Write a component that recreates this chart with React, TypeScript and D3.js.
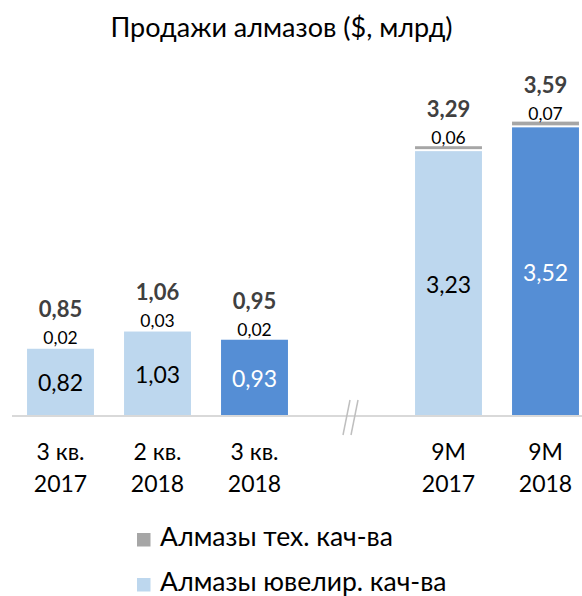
import * as d3 from 'd3';

const title = 'Продажи алмазов ($, млрд)';
const slots = ['q3-2017', 'q2-2018', 'q3-2018', 'break', '9m-2017', '9m-2018'];
const barKeys = ['q3-2017', 'q2-2018', 'q3-2018', '9m-2017', '9m-2018'];
const labelTop = ['3 кв.', '2 кв.', '3 кв.', '9M', '9M'];
const labelBottom = ['2017', '2018', '2018', '2017', '2018'];
const jewelry = [0.82, 1.03, 0.93, 3.23, 3.52];
const technical = [0.02, 0.03, 0.02, 0.06, 0.07];
const totals = [0.85, 1.06, 0.95, 3.29, 3.59];
const highlighted = [false, false, true, false, true];
const legendItems = [
  { name: 'Алмазы тех. кач-ва', color: '#a6a6a6' },
  { name: 'Алмазы ювелир. кач-ва', color: '#bdd7ee' },
];

const W = 582;
const H = 596;
const FONT = 'Lato, "Open Sans", sans-serif';
const LIGHT = '#bdd7ee';
const DARK = '#558ed5';
const GREY = '#a6a6a6';

const fmt = d3.formatLocale({ decimal: ',', thousands: ' ', grouping: [3], currency: ['', ''] }).format('.2f');

export default function App() {
  const baseY = 416;
  const x = d3.scaleBand<string>().domain(slots).range([12, 594]).paddingInner(0.31).paddingOuter(0.155);
  const y = d3.scaleLinear().domain([0, 4]).range([baseY, baseY - 328]);
  const bw = x.bandwidth();

  return (
    <svg width={W} height={H} style={{ position: 'absolute', left: 0, top: 0, background: '#fff' }} fontFamily={FONT}>
      <text x={281.5} y={37} textAnchor="middle" fontSize={27} fill="#000">{title}</text>

      {barKeys.map((k, i) => {
        const x0 = x(k)!;
        const cx = x0 + bw / 2;
        const jTop = y(jewelry[i]);
        const tTop = y(jewelry[i] + technical[i]);
        const totTop = y(totals[i]);
        // серый сегмент отделён от синего белым зазором
        const greyH = jTop - tTop - 2;
        return (
          <g key={k}>
            <rect x={x0} y={jTop} width={bw} height={baseY - jTop} fill={highlighted[i] ? DARK : LIGHT} />
            {greyH >= 1 && <rect x={x0} y={tTop} width={bw} height={greyH} fill={GREY} />}
            <text x={cx} y={(jTop + baseY) / 2 + 9} textAnchor="middle" fontSize={23}
              fill={highlighted[i] ? '#fff' : '#000'}>{fmt(jewelry[i])}</text>
            <text x={cx} y={totTop - 2} textAnchor="middle" fontSize={17.5} fill="#000">{fmt(technical[i])}</text>
            <text x={cx} y={totTop - 29} textAnchor="middle" fontSize={22} fontWeight="bold" fill="#404040">{fmt(totals[i])}</text>
            <text x={cx} y={460} textAnchor="middle" fontSize={23} fill="#000">{labelTop[i]}</text>
            <text x={cx} y={492} textAnchor="middle" fontSize={23} fill="#000">{labelBottom[i]}</text>
          </g>
        );
      })}

      <line x1={12} x2={W} y1={baseY} y2={baseY} stroke="#d9d9d9" strokeWidth={2} />

      {/* разрыв оси */}
      <line x1={350} y1={400} x2={343} y2={435} stroke="#bfbfbf" strokeWidth={1.5} />
      <line x1={358} y1={400} x2={351} y2={435} stroke="#bfbfbf" strokeWidth={1.5} />

      {legendItems.map((d, i) => (
        <g key={d.name} transform={`translate(137, ${533 + i * 45})`}>
          <rect x={0} y={0} width={13.5} height={13.5} fill={d.color} />
          <text x={23} y={12.5} fontSize={26.5} fill="#000">{d.name}</text>
        </g>
      ))}
    </svg>
  );
}
